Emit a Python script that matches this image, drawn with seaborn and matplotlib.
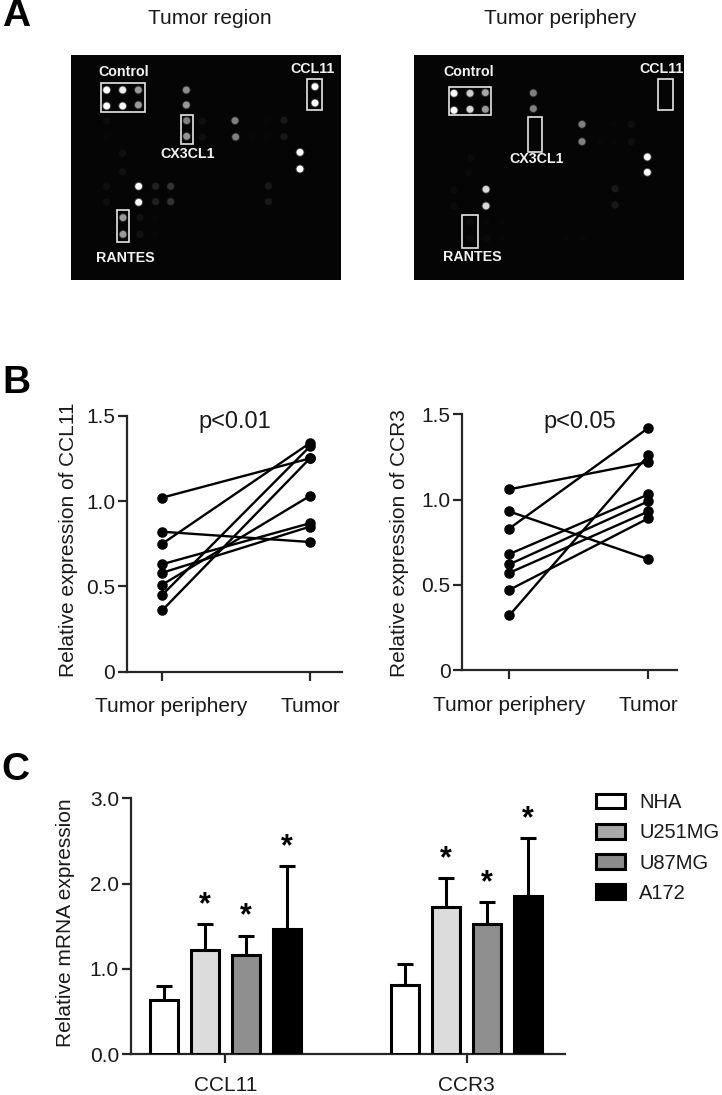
#!/usr/bin/env python3
"""Three-panel figure: cytokine arrays, paired expression, mRNA bars."""

import matplotlib

matplotlib.use("Agg")

import matplotlib.pyplot as plt
import pandas as pd
import seaborn as sns
from matplotlib.patches import Patch, Rectangle
from matplotlib.transforms import ScaledTranslation

W, H = 722, 1095

# array spots, in scan coordinates: x, y, brightness
TUMOR_X = [140, 188, 235, 140, 188, 235, 379, 379, 380, 380, 427, 427, 525, 527, 672, 672,
           620, 620, 575, 140, 140, 765, 765, 720, 720, 236, 236, 287, 287, 332, 332, 625,
           625, 189, 189, 240, 240, 285, 285, 140, 140, 188, 188, 525, 525, 670]
TUMOR_Y = [135, 135, 135, 183, 183, 180, 135, 180, 227, 274, 228, 276, 227, 276, 226, 275,
           226, 275, 275, 228, 276, 125, 174, 322, 372, 424, 472, 424, 470, 424, 470, 423,
           470, 518, 568, 518, 568, 518, 568, 425, 472, 325, 380, 135, 182, 135]
TUMOR_LEVEL = [1, .93, .6, 1, .97, .6, .55, .6, .5, .58, .06, .06, .5, .5, .1, .1,
               .03, .03, .03, .05, .03, 1, 1, 1, 1, 1, 1, .13, .13, .2, .2, .1,
               .1, .6, .6, .07, .07, .03, .03, .06, .06, .07, .07, .02, .02, .02]

PERI_X = [147, 195, 241, 147, 195, 241, 385, 385, 531, 531, 679, 679, 626, 626, 585, 727,
          727, 243, 243, 630, 630, 195, 195, 247, 247, 290, 290, 387, 535, 483, 147, 147,
          197, 190]
PERI_Y = [145, 145, 143, 196, 193, 193, 144, 191, 238, 290, 238, 290, 238, 290, 290, 336,
          382, 433, 483, 431, 480, 530, 580, 530, 580, 530, 580, 527, 580, 580, 435, 483,
          338, 385]
PERI_LEVEL = [1, .8, .65, 1, .85, .6, .5, .5, .5, .5, .06, .06, .03, .03, .03, 1,
              1, .85, .85, .1, .1, .04, .04, .03, .04, .03, .03, .02, .03, .03, .04, .04,
              .04, .04]

# label, box (x0, x1, y0, y1), text position
TUMOR_BOXES = [("Control", (122, 254, 114, 202), (192, 80)),
               ("CCL11", (741, 785, 102, 195), (758, 73)),
               ("CX3CL1", (363, 399, 209, 297), (382, 328)),
               ("RANTES", (171, 208, 495, 590), (195, 638))]
PERI_BOXES = [("Control", (131, 257, 125, 211), (190, 80)),
              ("CCL11", (759, 805, 102, 195), (770, 73)),
              ("CX3CL1", (368, 411, 216, 320), (396, 343)),
              ("RANTES", (172, 220, 509, 608), (201, 637))]

SITES = ["Tumor periphery", "Tumor"]
CCL11_PERI = [1.02, 0.82, 0.75, 0.63, 0.58, 0.51, 0.45, 0.36]
CCL11_TUMOR = [1.25, 0.76, 1.34, 0.87, 0.85, 1.03, 1.32, 1.25]
CCR3_PERI = [1.06, 0.93, 0.83, 0.68, 0.62, 0.57, 0.47, 0.32]
CCR3_TUMOR = [1.22, 0.65, 1.42, 1.03, 0.99, 0.93, 0.89, 1.26]

GENES = ["CCL11", "CCR3"]
CELLS = ["NHA", "U251MG", "U87MG", "A172"]
MRNA_CCL11 = [0.63, 1.22, 1.16, 1.47]
MRNA_CCR3 = [0.81, 1.73, 1.52, 1.85]
ERR_CCL11 = [0.17, 0.30, 0.23, 0.73]
ERR_CCR3 = [0.25, 0.33, 0.26, 0.68]
STARRED = ["U251MG", "U87MG", "A172"]

BAR_COLORS = ["#ffffff", "#dcdcdc", "#8f8f8f", "#000000"]
KEY_COLORS = ["#ffffff", "#a8a8a8", "#8c8c8c", "#000000"]


def axes_px(fig, x0, y0, x1, y1):
    # axes from a pixel box, y counted from the top
    return fig.add_axes([x0 / W, 1 - y1 / H, (x1 - x0) / W, (y1 - y0) / H])


def text_px(fig, x, y, s, **kw):
    fig.text(x / W, 1 - y / H, s, ha="center", va="center", **kw)


def draw_blot(fig, rect, xlim, xs, ys, levels, boxes):
    ax = axes_px(fig, *rect)
    ax.set_facecolor("#050505")
    spots = pd.DataFrame({"x": xs, "y": ys, "level": levels})
    # soft halo under each spot, the scan is a bit blurred
    sns.scatterplot(data=spots, x="x", y="y", hue="level", palette="gray", hue_norm=(0, 1),
                    s=38, alpha=0.3, linewidth=0, legend=False, ax=ax)
    sns.scatterplot(data=spots, x="x", y="y", hue="level", palette="gray", hue_norm=(0, 1),
                    s=24, linewidth=0, legend=False, ax=ax)
    for label, (x0, x1, y0, y1), (tx, ty) in boxes:
        ax.add_patch(Rectangle((x0, y0), x1 - x0, y1 - y0, fill=False, ec="#e6e6e6", lw=1.2))
        ax.text(tx, ty, label, color="#f2f2f2", fontsize=10.3, fontweight="bold",
                ha="center", va="center")
    ax.set_xlim(*xlim)
    ax.set_ylim(706, 30)
    ax.set_xticks([])
    ax.set_yticks([])
    ax.set_xlabel("")
    ax.set_ylabel("")
    for s in ax.spines.values():
        s.set_visible(False)
    return ax


def draw_pairs(fig, rect, xlim, peri, tumor, ylabel, label_xy, shift_px=0):
    ax = axes_px(fig, *rect)
    n = len(peri)
    df = pd.DataFrame({
        "pair": list(range(n)) * 2,
        "site": [SITES[0]] * n + [SITES[1]] * n,
        "value": peri + tumor,
    })
    sns.lineplot(data=df, x="site", y="value", units="pair", estimator=None, color="black",
                 lw=1.7, marker="o", markersize=7.6, markeredgewidth=0, ax=ax, clip_on=False)
    ax.set_xlim(*xlim)
    ax.set_ylim(0, 1.5)
    ax.set_yticks([0, 0.5, 1.0, 1.5], ["0", "0.5", "1.0", "1.5"])
    ax.set_xlabel("")
    ax.set_ylabel(ylabel, fontsize=15)
    ax.yaxis.set_label_coords(*label_xy)
    ax.tick_params(axis="y", width=1.6, length=6.5, labelsize=15, pad=2)
    ax.tick_params(axis="x", width=1.6, length=6.5, labelsize=15, pad=12)
    if shift_px:
        lab = ax.get_xticklabels()[0]
        lab.set_transform(lab.get_transform() + ScaledTranslation(shift_px / 100, 0, fig.dpi_scale_trans))
    sns.despine(ax=ax)
    for side in ("left", "bottom"):
        ax.spines[side].set_linewidth(1.6)
    return ax


def draw_bars(fig, rect):
    ax = axes_px(fig, *rect)
    df = pd.DataFrame({
        "gene": [GENES[0]] * 4 + [GENES[1]] * 4,
        "cell": CELLS * 2,
        "value": MRNA_CCL11 + MRNA_CCR3,
        "err": ERR_CCL11 + ERR_CCR3,
    })
    sns.barplot(data=df, x="gene", y="value", hue="cell", hue_order=CELLS, palette=BAR_COLORS,
                width=0.68, gap=0.32, edgecolor="black", linewidth=2.2, errorbar=None,
                legend=False, ax=ax, zorder=3)
    # seaborn draws hue by hue, so walk the containers the same way
    for cont, cell in zip(ax.containers, CELLS):
        sub = df[df["cell"] == cell]
        for bar, val, err in zip(cont, sub["value"], sub["err"]):
            xc = bar.get_x() + bar.get_width() / 2
            ax.errorbar(xc, val, yerr=[[0], [err]], color="black", elinewidth=2.2, capsize=6,
                        capthick=2.2, zorder=2)
            if cell in STARRED:
                ax.annotate("*", (xc, val + err), xytext=(0, 14), textcoords="offset points",
                            ha="center", va="center", fontsize=22, fontweight="bold",
                            color="black")
    ax.set_xlim(-0.392, 1.407)
    ax.set_ylim(0, 3)
    ax.set_yticks([0, 1, 2, 3], ["0.0", "1.0", "2.0", "3.0"])
    ax.set_xlabel("")
    ax.set_ylabel("Relative mRNA expression", fontsize=15)
    ax.yaxis.set_label_coords(-0.128, 0.514)
    ax.tick_params(axis="y", width=1.6, length=6.5, labelsize=15, pad=2)
    ax.tick_params(axis="x", width=1.6, length=6.5, labelsize=15, pad=9.5)
    sns.despine(ax=ax)
    for side in ("left", "bottom"):
        ax.spines[side].set_linewidth(1.6)

    handles = [Patch(facecolor=c, edgecolor="black", linewidth=2.2, label=n)
               for c, n in zip(KEY_COLORS, CELLS)]
    fig.legend(handles=handles, loc="upper left", bbox_to_anchor=(596 / W, 1 - 793 / H),
               frameon=False, fontsize=14.5, borderpad=0, borderaxespad=0, handlelength=1.45,
               handleheight=0.75, handletextpad=0.7, labelspacing=0.56)
    return ax


def main():
    sns.set_theme(style="ticks")
    plt.rcParams["font.family"] = ["Liberation Sans", "DejaVu Sans"]
    plt.rcParams["text.color"] = "#1a1a1a"
    plt.rcParams["axes.labelcolor"] = "#1a1a1a"
    plt.rcParams["xtick.labelcolor"] = "#1a1a1a"
    plt.rcParams["ytick.labelcolor"] = "#1a1a1a"

    fig = plt.figure(figsize=(W / 100, H / 100), dpi=100, facecolor="white")

    draw_blot(fig, (71, 55, 341, 280.3), (33, 843), TUMOR_X, TUMOR_Y, TUMOR_LEVEL, TUMOR_BOXES)
    draw_blot(fig, (414, 55, 683.7, 280.3), (27, 836), PERI_X, PERI_Y, PERI_LEVEL, PERI_BOXES)
    text_px(fig, 210, 18, "Tumor region", fontsize=15)
    text_px(fig, 560, 19, "Tumor periphery", fontsize=15)

    draw_pairs(fig, (127, 415.7, 341.7, 671.7), (-0.239, 1.215), CCL11_PERI, CCL11_TUMOR,
               "Relative expression of CCL11", (-0.227, 0.514), shift_px=9)
    draw_pairs(fig, (462.3, 414.3, 676.7, 670), (-0.338, 1.204), CCR3_PERI, CCR3_TUMOR,
               "Relative expression of CCR3", (-0.247, 0.495))
    text_px(fig, 235, 421.7, "p<0.01", fontsize=17)
    text_px(fig, 580, 421.7, "p<0.05", fontsize=17)

    draw_bars(fig, (130.7, 798.3, 565, 1054))

    text_px(fig, 16, 16, "A", fontsize=28, fontweight="bold", color="black")
    text_px(fig, 16, 383, "B", fontsize=28, fontweight="bold", color="black")
    text_px(fig, 15, 770, "C", fontsize=28, fontweight="bold", color="black")

    fig.savefig("out.png", dpi=100)
    plt.close(fig)


if __name__ == "__main__":
    main()
